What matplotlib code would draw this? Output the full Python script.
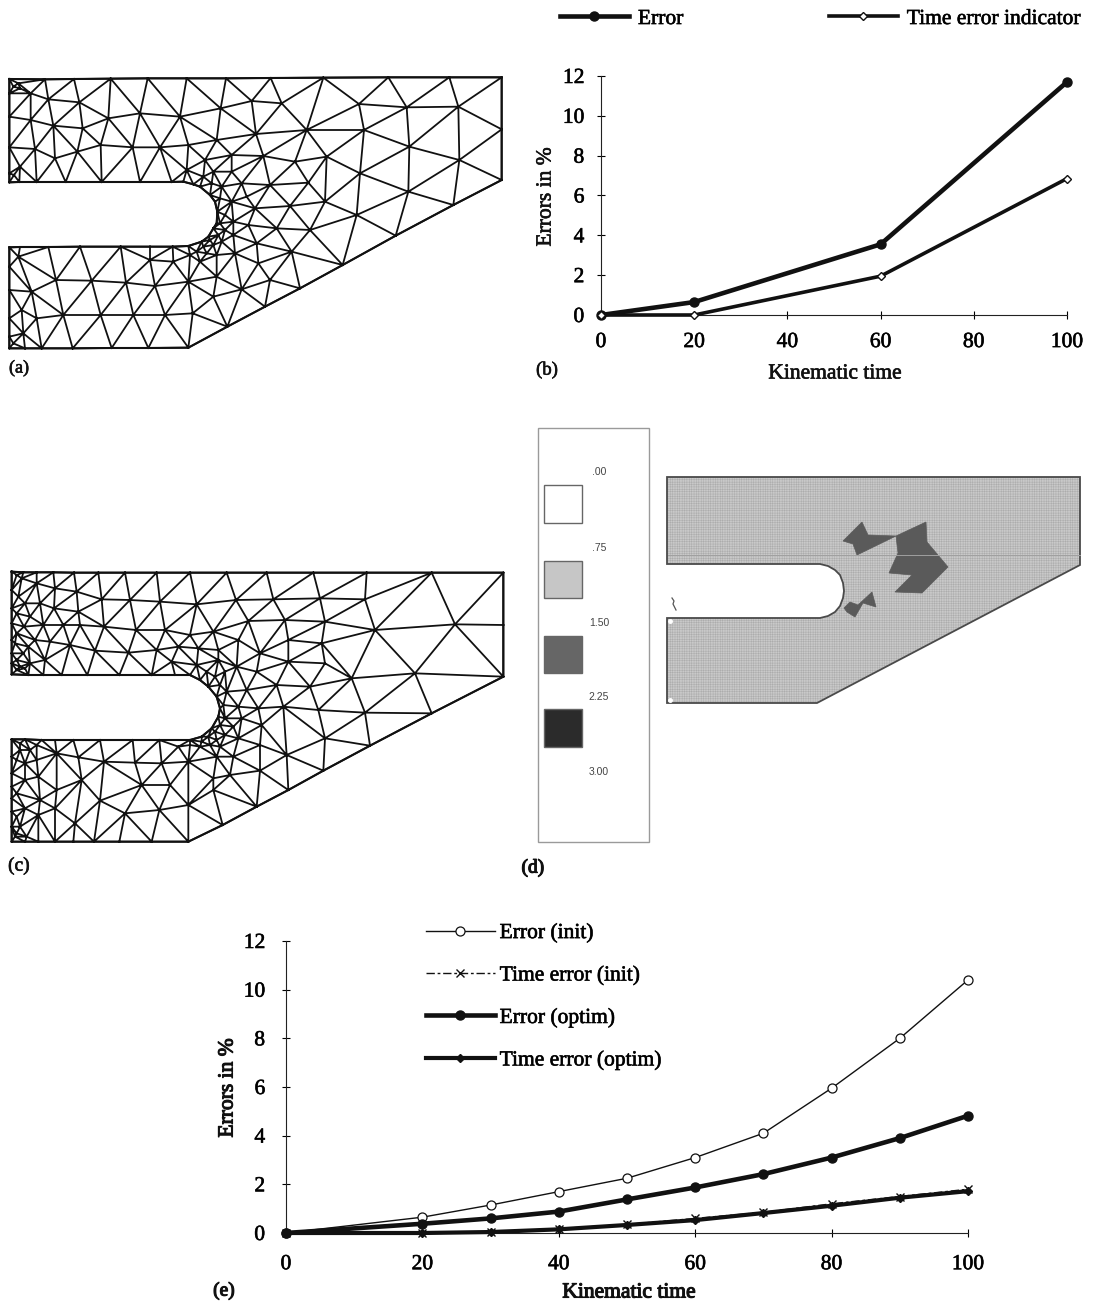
import numpy as np
import matplotlib
matplotlib.use("Agg")
import matplotlib.pyplot as plt
import matplotlib.tri as mtri
import matplotlib.patheffects as pe
from matplotlib.path import Path
from matplotlib.patches import Polygon, Rectangle

plt.rcParams['font.family'] = ['Liberation Serif', 'DejaVu Serif']
plt.rcParams['hatch.linewidth'] = 0.35
W, H = 1093, 1303
INK = '#111111'

# ---- chart (b)
b_time = [0, 20, 60, 100]
b_error = [0, 0.65, 3.55, 11.7]
b_indicator = [0, 0, 1.95, 6.85]
# ---- chart (e)
e_time = [0, 20, 30, 40, 50, 60, 70, 80, 90, 100]
e_error_init = [0, 0.65, 1.15, 1.7, 2.25, 3.1, 4.1, 5.95, 8.0, 10.4]
e_time_init = [0, 0, 0.05, 0.18, 0.35, 0.6, 0.85, 1.2, 1.5, 1.8]
e_error_optim = [0, 0.38, 0.6, 0.88, 1.38, 1.87, 2.42, 3.1, 3.9, 4.82]
e_time_optim = [0, 0, 0.04, 0.15, 0.33, 0.53, 0.82, 1.12, 1.45, 1.72]
x_ticks = [0, 20, 40, 60, 80, 100]
y_ticks = [0, 2, 4, 6, 8, 10, 12]

# ---- mesh (a): outline and interior nodes
a_outline = [(28,57),(135,58),(222,57),(332,56),(443,55),(560,55),(678,55),(812,54),(970,53),(1165,52),(1348,52),(1505,52),
             (1505,208),(1505,360),(1360,435),(1187,527),(1028,615),(900,685),(795,740),(682,800),(565,863),
             (445,864),(335,864),(218,865),(125,865),(75,865),(28,865),(28,830),(28,775),(28,690),(28,620),(28,562),
             (60,561),(145,561),(240,560),(362,560),(450,560),(518,560),(565,558),
             (605,545),(625,530),(640,505),(650,490),(652,455),(645,425),(630,405),(600,380),(580,373),(550,365),
             (515,366),(420,366),(305,366),(197,366),(110,366),(58,366),(28,367),(28,340),(28,262),(28,170),(28,100)]
a_inner = [(145,118),(238,127),(92,180),(160,197),(248,205),(325,175),(420,160),(540,170),(662,145),(755,123),(845,130),
           (768,222),(920,210),(1077,132),(1220,142),(1375,140),(1092,210),(1228,260),(1378,300),(1080,340),(980,290),
           (885,305),(790,288),(650,240),(480,262),(398,262),(302,255),(232,275),(165,295),(105,267),
           (810,375),(925,368),(975,425),(870,438),(765,445),(1070,465),(1225,395),
           (930,510),(830,505),(745,495),(770,550),(875,575),(650,650),(725,688),(810,660),(775,610),
           (60,320),(42,345),(60,85),(92,100),(55,70),(40,80),
           (55,590),(168,660),(275,662),(378,668),(465,678),(565,665),(450,600),(520,605),
           (640,710),(578,760),(495,765),(400,765),(302,765),(190,765),(110,775),(95,695),(65,750),
           (70,820),(40,850),
           # around the notch
           (565,255),(615,300),(560,330),(695,285),(640,335),(695,335),(610,350),(635,370),(665,380),(725,370),
           (695,425),(660,415),(740,410),(675,465),(700,485),(660,490),(675,510),(655,525),(700,525),(630,540),
           (640,555),(665,545),(610,560),(590,575),(620,580),(650,585),(705,580),(570,585),(600,605)]

# ---- mesh (c): outline and interior nodes
c_outline = [(35,35),(70,37),(110,37),(160,37),(222,38),(295,38),(375,38),(470,38),(570,38),(680,38),(800,38),(940,38),(1100,38),(1295,38),(1510,38),
             (1510,195),(1510,350),(1295,460),(1110,557),(970,632),(865,690),(770,740),(668,795),(565,845),
             (455,845),(358,845),(282,845),(220,845),(165,845),(115,845),(75,845),(35,845),
             (35,800),(35,755),(35,715),(35,680),(35,640),(35,590),(35,538),
             (75,538),(125,540),(165,540),(220,540),(300,540),(398,540),(478,540),(570,540),
             (605,530),(635,505),(655,470),(660,445),(650,410),(625,380),(600,360),(570,345),
             (525,345),(455,345),(358,345),(262,345),(185,345),(130,345),(85,345),(35,343),
             (35,310),(35,280),(35,240),(35,190),(35,145),(35,90)]
c_inner = [(65,55),(110,70),(165,85),(230,95),(305,118),(390,120),(480,125),(590,133),(708,120),(820,118),(960,115),(1095,118),
           (1365,193),(1125,210),(975,185),(855,180),(745,183),(495,210),(408,210),(312,200),(240,195),
           (190,195),(130,195),(72,200),(75,130),(120,130),(162,145),(235,155),(45,250),(70,280),(105,240),(150,245),(210,255),
           (285,272),(385,278),(470,270),(865,240),(965,250),(975,310),(1055,355),(1245,340),
           (1095,458),(975,535),(780,632),(690,645),(640,655),
           (60,570),(110,555),(170,580),(235,592),(312,605),(405,608),(485,610),(245,660),(170,690),(120,720),(75,745),(115,765),
           (165,745),(225,790),(300,722),(375,760),(478,750),(565,735),(510,675),(425,675),(640,690),(75,660),(115,650),(75,610),
           (60,800),(80,830),(50,820),(50,300),(60,320),(90,310),(135,300),
           (50,45),(55,110),(50,160),(90,170),(50,220),(85,260),(50,330),(75,325),(60,550),(90,570),(50,600),(110,600),(50,700),(50,770),(45,830),
           # around the notch
           (570,225),(640,215),(715,240),(780,280),(655,270),(595,265),(535,260),(515,305),(590,315),(655,300),(710,320),(770,335),
           (865,305),(830,375),(930,380),(620,335),(645,350),(675,335),(660,375),(680,395),(740,390),(715,440),(670,435),(775,445),
           (850,440),(955,450),(725,475),(675,475),(660,495),(700,500),(785,495),(645,515),(675,525),(715,535),(625,530),(650,540),
           (605,545),(630,555),(600,560),(570,555),(660,560),(535,560),(780,555),(860,585),(650,590),(700,590),(565,605)]

# ---- panel (d) geometry
d_shape = [(667,477),(1080,477),(1080,565),(817,703),(667,703),(667,618),(820,618),(828,616),(835,612),(840,606),(843,598),
           (844,591),(843,583),(840,575),(835,570),(828,566),(820,564),(667,564)]
d_patch1 = [(843,541),(862,522),(868,535),(896,536),(857,555),(853,544)]
d_patch2 = [(896,536),(926,522),(927,542),(948,567),(922,593),(895,592),(912,575),(889,573),(898,553)]
d_patch3 = [(844,608),(850,602),(858,605),(872,592),(876,607),(863,603),(855,617),(847,612)]
d_levels = ['.00', '.75', '1.50', '2.25', '3.00']
d_level_y = [472, 548, 623, 697, 772]
d_swatches = [(485, 523, '#ffffff'), (561, 598, '#c6c6c6'), (636, 673, '#666666'), (709, 747, '#2b2b2b')]

fig = plt.figure(figsize=(W/100, H/100), dpi=100, facecolor='white')

def px_axes(l, t, r, b):
    return fig.add_axes([l/W, 1-b/H, (r-l)/W, (b-t)/H])

heavy = [pe.withStroke(linewidth=0.45, foreground=INK)]
heavier = [pe.withStroke(linewidth=0.8, foreground=INK)]

def draw_mesh(box, outline, inner):
    ax = px_axes(*box)
    ax.set_xlim(0, (box[2]-box[0])*3)
    ax.set_ylim((box[3]-box[1])*3, 0)
    ax.axis('off')
    pts = np.unique(np.array(list(outline)+list(inner), float), axis=0)
    tri = mtri.Triangulation(pts[:, 0], pts[:, 1])
    path = Path(np.array(outline+[outline[0]], float))
    cent = pts[tri.triangles].mean(axis=1)
    tri.set_mask(~path.contains_points(cent))
    ax.triplot(tri, color=INK, lw=1.3)
    o = np.array(outline+[outline[0]])
    ax.plot(o[:, 0], o[:, 1], color=INK, lw=1.5)

draw_mesh((0, 60, 520, 380), a_outline, a_inner)
draw_mesh((0, 560, 520, 880), c_outline, c_inner)

def style_chart(ax, xpad, ypad):
    ax.set_xlim(0, 100); ax.set_ylim(0, 12)
    ax.set_facecolor('none')
    ax.spines[['top', 'right']].set_visible(False)
    ax.spines[['left', 'bottom']].set_linewidth(0.8)
    ax.spines[['left', 'bottom']].set_color('#222222')
    ax.set_xticks(x_ticks); ax.set_yticks(y_ticks)
    ax.tick_params(axis='x', direction='inout', length=6, width=0.8, pad=xpad, labelsize=15.5)
    ax.tick_params(axis='y', direction='inout', length=6, width=0.8, pad=ypad, labelsize=15.5)
    for t in ax.get_xticklabels()+ax.get_yticklabels():
        t.set_path_effects(heavy)

# ---- (b)
axb = px_axes(601, 76, 1067, 315)
style_chart(axb, 10, 9)
axb.plot(b_time, b_error, color=INK, lw=3.3, marker='o', ms=6.5, mfc=INK, mec=INK, label='Error', clip_on=False, zorder=3)
axb.plot(b_time, b_indicator, color=INK, lw=2.6, marker='D', ms=4.5, mfc='white', mec=INK, mew=1, label='Time error indicator', clip_on=False, zorder=4)
leg = axb.legend(ncol=2, loc='center left', bbox_to_anchor=(560/W, 1-19/H), bbox_transform=fig.transFigure,
                 frameon=False, fontsize=15.5, handlelength=3.2, handletextpad=0.42, columnspacing=6.76,
                 borderpad=0, borderaxespad=0, numpoints=1)
for t in leg.get_texts():
    t.set_path_effects(heavy)

# ---- (e)
axe = px_axes(286, 941, 968, 1233)
style_chart(axe, 13, 12)
axe.plot(e_time, e_error_init, color=INK, lw=1.0, marker='o', ms=6.5, mfc='white', mec=INK, mew=0.9, label='Error (init)', clip_on=False, zorder=3)
axe.plot(e_time, e_time_init, color=INK, lw=1.0, ls=(0, (6, 2, 2, 2)), marker='x', ms=6, mec=INK, mew=1.0, label='Time error (init)', clip_on=False, zorder=3)
axe.plot(e_time, e_error_optim, color=INK, lw=3.3, marker='o', ms=6.5, mfc=INK, mec=INK, label='Error (optim)', clip_on=False, zorder=4)
axe.plot(e_time, e_time_optim, color=INK, lw=3.0, marker='D', ms=4, mfc=INK, mec=INK, label='Time error (optim)', clip_on=False, zorder=4)
lege = axe.legend(loc='upper left', bbox_to_anchor=(426/W, 1-923/H), bbox_transform=fig.transFigure,
                  frameon=False, fontsize=15.5, handlelength=3.2, handletextpad=0.22, labelspacing=1.04,
                  borderpad=0, borderaxespad=0, numpoints=1)
for t in lege.get_texts():
    t.set_path_effects(heavy)

# ---- overlay in pixel coordinates for labels and panel (d)
ov = fig.add_axes([0, 0, 1, 1]); ov.set_xlim(0, W); ov.set_ylim(H, 0); ov.axis('off'); ov.set_facecolor('none')

def label(x, y, s, fs=15.5, rot=0, eff=heavy, ha='center', **kw):
    t = ov.text(x, y, s, fontsize=fs, rotation=rot, ha=ha, va='center', color=INK, **kw)
    t.set_path_effects(eff)

label(835, 374, 'Kinematic time')
label(546, 197, 'Errors in %', rot=90)
label(629, 1293, 'Kinematic time', eff=heavier)
label(228, 1088, 'Errors in %', rot=90, eff=heavier)
label(19, 368, '(a)', fs=13)
label(547, 370, '(b)', fs=13.5)
label(19, 866, '(c)', fs=14)
label(533, 868, '(d)', fs=14, eff=heavier)
label(224, 1291, '(e)', fs=14, eff=heavier)

# panel (d)
ov.add_patch(Rectangle((538, 428), 111, 414, fc='white', ec='#9a9a9a', lw=1.0))
for (t, b, c) in d_swatches:
    ov.add_patch(Rectangle((544, t), 38, b-t, fc=c, ec='#666666', lw=1.0))
for s, y in zip(d_levels, d_level_y):
    ov.text(599, y, s, fontsize=7.5, family='Liberation Sans', color='#444444', ha='center', va='center')
ov.add_patch(Polygon(d_shape, closed=True, fc='#c9c9c9', ec='none'))
ov.add_patch(Polygon(d_shape, closed=True, fc='none', ec='#acacac', lw=0, hatch='+++++++'))
ov.add_patch(Polygon(d_shape, closed=True, fc='none', ec='#4a4a4a', lw=1.3))
ov.plot([668, 1080], [555, 555], color='#a0a0a0', lw=0.7)
for p in (d_patch1, d_patch2, d_patch3):
    ov.add_patch(Polygon(p, closed=True, fc='#5a5a5a', ec='#5a5a5a', lw=0.5))
ov.plot([670, 670], [621, 700], ls='none', marker='o', ms=2.5, color='white')
ov.plot([672, 674, 673, 676], [598, 601, 604, 610], color='#555555', lw=0.9)

fig.savefig('out.png', dpi=100, facecolor='white')
